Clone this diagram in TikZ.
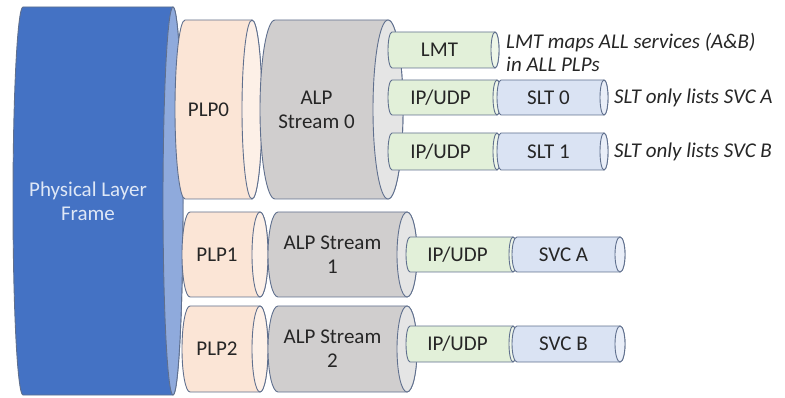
\documentclass[tikz,border=0pt]{standalone}
\usepackage{fontspec}
\setmainfont{Carlito}
\usepackage{xcolor}
\usepackage{tikz}

\definecolor{canedge}{RGB}{96,112,142}
\definecolor{framebody}{RGB}{68,114,196}
\definecolor{frameface}{RGB}{143,170,220}
\definecolor{frametext}{RGB}{222,231,246}
\definecolor{plpbody}{RGB}{251,229,214}
\definecolor{plpface}{RGB}{253,240,231}
\definecolor{alpbody}{RGB}{208,206,206}
\definecolor{alpface}{RGB}{229,229,229}
\definecolor{ipbody}{RGB}{226,240,217}
\definecolor{ipface}{RGB}{238,246,233}
\definecolor{svcbody}{RGB}{218,227,243}
\definecolor{svcface}{RGB}{233,238,248}
\definecolor{labeltext}{RGB}{38,38,38}

\tikzset{
  can line/.style={draw=canedge, line width=0.9pt},
  can text/.style={text=labeltext, font=\fontsize{21}{24}\selectfont, align=center, inner sep=0pt},
  note/.style={anchor=west, text=labeltext, font=\fontsize{21}{23}\selectfont\itshape, align=left, inner sep=0pt}
}

% lying can: #1 name, #2 left end, #3 right end, #4 top, #5 bottom, #6 end radius, #7 colours, #8 text
\newcommand{\hcan}[8]{%
  \pgfmathsetmacro\canmid{(#4+#5)/2}%
  \pgfmathsetmacro\canry{(#5-#4)/2}%
  \filldraw[can line, fill=#7body] (#2,#4) -- (#3,#4)
    arc[start angle=-90, end angle=90, x radius=#6, y radius=\canry]
    -- (#2,#5) arc[start angle=90, end angle=270, x radius=#6, y radius=\canry] -- cycle;
  \filldraw[can line, fill=#7face] (#3,\canmid) ellipse[x radius=#6, y radius=\canry];
  \node[can text] (#1) at ({(#2+#3)/2-#6},\canmid) {#8};
}

\begin{document}
\begin{tikzpicture}[x=1pt, y=-1pt]
  \useasboundingbox (0,0) rectangle (785,398);
  % Physical layer frame
  \hcan{frame}{23}{173}{7}{395}{10}{frame}{\textcolor{frametext}{Physical Layer}\\\textcolor{frametext}{Frame}}
  % PLP0 carries ALP stream 0 with the signalling
  \hcan{plp0}{185}{252}{20}{199}{10}{plp}{PLP0}
  \hcan{alp0}{275}{388}{20}{199}{15}{alp}{ALP\\Stream 0}
  \hcan{lmt}{392}{495}{32}{68}{4}{ip}{LMT}
  \foreach \r/\t/\b in {0/80/115, 1/133/170} {
    \hcan{ipslt\r}{392}{497}{\t}{\b}{4}{ip}{IP/UDP}
    \hcan{slt\r}{501}{604}{\t}{\b}{4}{svc}{SLT \r}
  }
  % PLP1 and PLP2 carry one service each
  \foreach \i/\t/\b/\u/\v/\s in {1/212/297/237/272/A, 2/306/392/326/362/B} {
    \hcan{plp\i}{190}{260}{\t}{\b}{8}{plp}{PLP\i}
    \hcan{alp\i}{278}{407}{\t}{\b}{10}{alp}{ALP Stream\\\i}
    \hcan{ipsvc\i}{410}{513}{\u}{\v}{4}{ip}{IP/UDP}
    \hcan{svc\i}{517}{620}{\u}{\v}{5}{svc}{SVC \s}
  }
  % Notes
  \node[note] (lmtnote) at (506,52) {LMT maps ALL services (A\&B)\\in ALL PLPs};
  \node[note] (sltnote0) at (614,98) {SLT only lists SVC A};
  \node[note] (sltnote1) at (614,152) {SLT only lists SVC B};
\end{tikzpicture}
\end{document}
